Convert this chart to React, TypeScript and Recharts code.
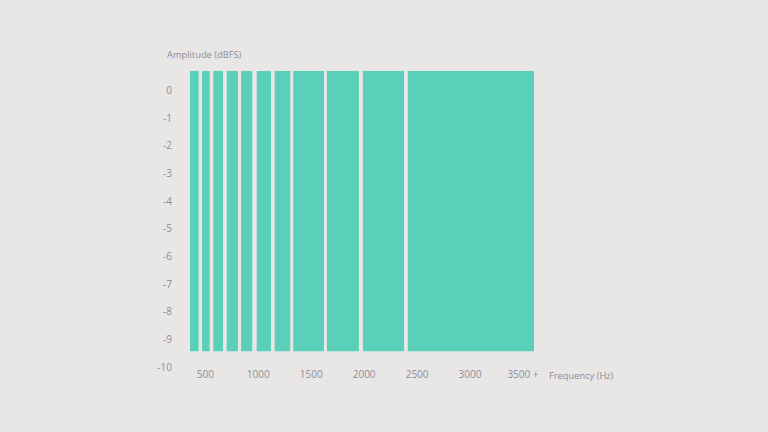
import React from 'react';
import { ComposedChart, XAxis, YAxis, ReferenceArea } from 'recharts';

// Frequency bands (Hz) – start and end of each bar
const bandStart = [355, 469, 575, 702, 837, 985, 1155, 1330, 1648, 1988, 2412];
const bandEnd = [437, 541, 667, 808, 943, 1120, 1302, 1620, 1950, 2377, 3604];
// Amplitude range of each bar (dBFS)
const bandTop = [0.7, 0.7, 0.7, 0.7, 0.7, 0.7, 0.7, 0.7, 0.7, 0.7, 0.7];
const bandBottom = [-9.43, -9.43, -9.43, -9.43, -9.43, -9.43, -9.43, -9.43, -9.43, -9.43, -9.43];

const xTicks = [500, 1000, 1500, 2000, 2500, 3000, 3500];
const yTicks = [0, -1, -2, -3, -4, -5, -6, -7, -8, -9, -10];

const xLabel = 'Frequency (Hz)';
const yLabel = 'Amplitude (dBFS)';

const BG = '#e9e7e5';
const BAR = '#5ad0bb';
const TXT = '#8c8c9b';
const FONT = '"Open Sans", sans-serif';

const data = bandStart.map((s, i) => ({ start: s, end: bandEnd[i], top: bandTop[i], bottom: bandBottom[i] }));

export default function App() {
  return (
    <div
      style={{
        position: 'fixed',
        left: 0,
        top: 0,
        width: 768,
        height: 432,
        background: BG,
        fontFamily: FONT,
      }}
    >
      <ComposedChart
        width={768}
        height={432}
        data={data}
        margin={{ top: 71, right: 234, bottom: 35, left: 130 }}
      >
        <XAxis
          type="number"
          dataKey="start"
          domain={[355, 3604]}
          allowDataOverflow
          ticks={xTicks}
          tickFormatter={(v: number) => (v === 3500 ? '3500 +' : String(v))}
          axisLine={false}
          tickLine={false}
          tickSize={0}
          tickMargin={4}
          height={30}
          tick={{ fill: TXT, fontSize: 10, fontFamily: FONT }}
          interval={0}
        />
        <YAxis
          type="number"
          domain={[-10, 0.7]}
          allowDataOverflow
          ticks={yTicks}
          axisLine={false}
          tickLine={false}
          tickSize={0}
          tickMargin={18}
          width={60}
          tick={{ fill: TXT, fontSize: 10, fontFamily: FONT }}
          interval={0}
        />
        {data.map((d, i) => (
          <ReferenceArea
            key={i}
            x1={d.start}
            x2={d.end}
            y1={d.bottom}
            y2={d.top}
            fill={BAR}
            fillOpacity={1}
            stroke="none"
            ifOverflow="visible"
          />
        ))}
      </ComposedChart>
      <div
        style={{
          position: 'absolute',
          left: 167,
          top: 48,
          fontSize: 9.3,
          color: TXT,
          lineHeight: '14px',
          whiteSpace: 'nowrap',
        }}
      >
        {yLabel}
      </div>
      <div
        style={{
          position: 'absolute',
          left: 549,
          top: 369,
          fontSize: 9.3,
          color: TXT,
          lineHeight: '14px',
          whiteSpace: 'nowrap',
        }}
      >
        {xLabel}
      </div>
    </div>
  );
}
